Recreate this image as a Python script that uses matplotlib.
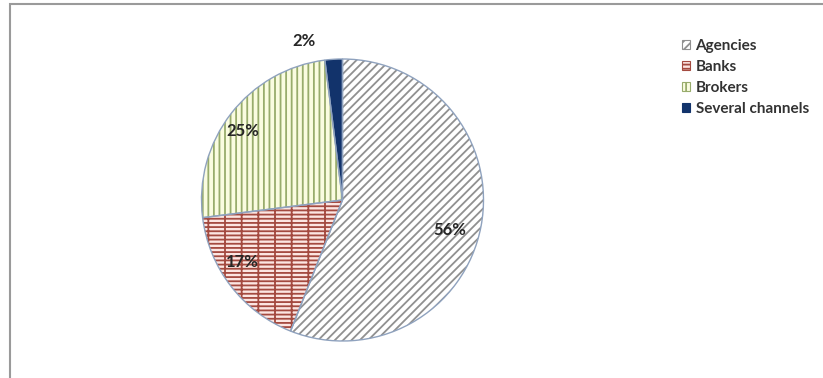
import numpy as np
import matplotlib.pyplot as plt
from matplotlib.patches import Patch, Rectangle

channels = ['Agencies', 'Banks', 'Brokers', 'Several channels']
shares = [56, 17, 25, 2]

face_colors = ['#FFFFFF', '#FCE6E2', '#FAFCE0', '#12336B']
hatch_colors = ['#909090', '#A44A40', '#98AC6C', '#12336B']
hatches = ['////', '----|', '|||', '']

# label placement (radius as fraction of pie radius, angle shift in degrees)
label_dist = [0.79, 0.84, 0.86, 1.16]
label_shift = [-5, -6, 3, 10]

plt.rcParams['hatch.linewidth'] = 1.3
plt.rcParams['font.family'] = ['Lato', 'DejaVu Sans']


def main():
    fig = plt.figure(figsize=(8.23, 3.78), dpi=100)
    W, H = 823, 378

    # pie centre / radius in pixels
    cx, cy, r = 342.5, 200, 141
    ax = fig.add_axes([(cx - r) / W, 1 - (cy + r) / H, 2 * r / W, 2 * r / H])

    wedges, _, autotexts = ax.pie(shares, startangle=90, counterclock=False,
                                  colors=face_colors, autopct='%d%%',
                                  textprops=dict(fontsize=12, fontweight='bold',
                                                 color='#262626'))
    for w, hc, h in zip(wedges, hatch_colors, hatches):
        w.set_edgecolor(hc)
        w.set_hatch(h)
        w.set_linewidth(0)

    # outline on top
    ax.pie(shares, startangle=90, counterclock=False,
           wedgeprops=dict(fill=False, edgecolor='#8FA2BE', linewidth=1.0))

    for w, t, d, s in zip(wedges, autotexts, label_dist, label_shift):
        mid = np.deg2rad((w.theta1 + w.theta2) / 2 + s)
        t.set_position((d * np.cos(mid), d * np.sin(mid)))

    ax.set_xlim(-1, 1)
    ax.set_ylim(-1, 1)

    handles = [Patch(facecolor=fc, edgecolor=hc, hatch=h, linewidth=0.8)
               for fc, hc, h in zip(face_colors, hatch_colors, hatches)]
    leg = fig.legend(handles, channels, loc='upper left',
                     bbox_to_anchor=(668 / W, 1 - 25 / H), frameon=False,
                     handlelength=0.55, handleheight=0.55,
                     handletextpad=0.35, labelspacing=0.47,
                     prop=dict(weight='bold', size=11))
    for t in leg.get_texts():
        t.set_color('#333333')

    # chart-area border (cropped on the right and bottom)
    fig.add_artist(Rectangle((9.5 / W, -0.1), 1.2, 1 - 4.5 / H + 0.1,
                             transform=fig.transFigure, fill=False,
                             edgecolor='#9A9A9A', linewidth=1.5))

    plt.savefig('out.png', dpi=100)


if __name__ == '__main__':
    main()
